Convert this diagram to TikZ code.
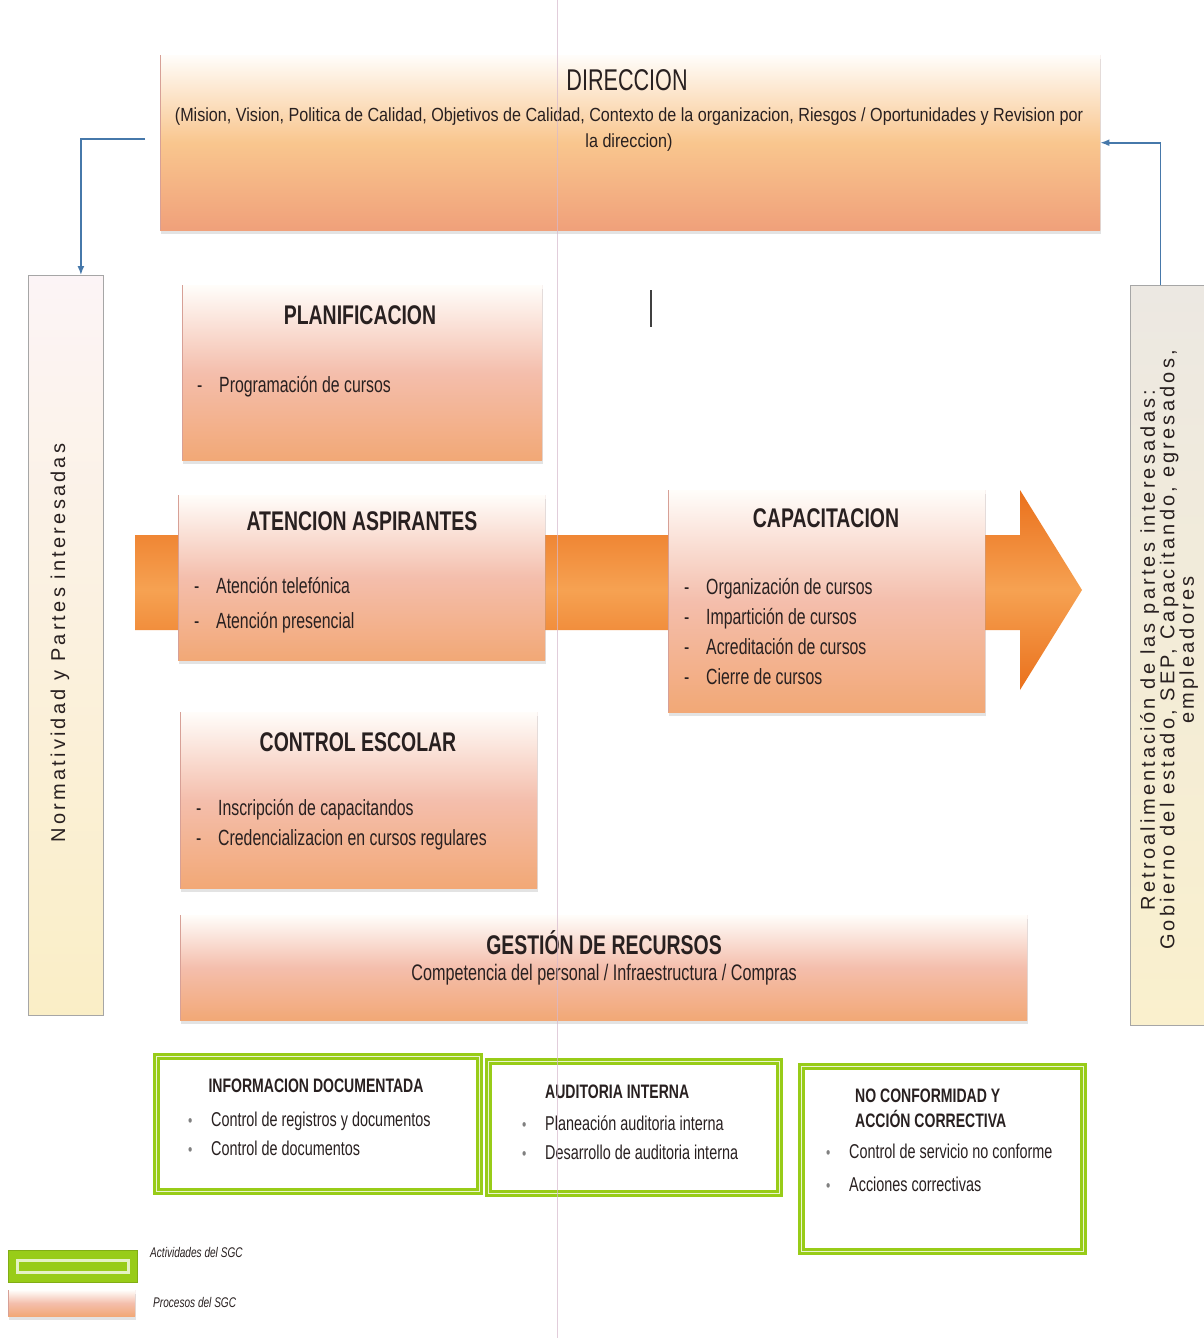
\documentclass[tikz,border=0pt]{standalone}
\usepackage{fontspec}
\setmainfont{Liberation Sans}
\newfontfamily\cf{Liberation Sans}[FakeStretch=0.72]
\newfontfamily\cfw{Liberation Sans}[FakeStretch=0.85]
\newfontfamily\spf{Liberation Sans}[LetterSpace=16]
\usetikzlibrary{arrows.meta,shadows}
\definecolor{procW}{RGB}{255,253,250}
\definecolor{procM}{RGB}{244,190,172}
\definecolor{procB}{RGB}{242,168,118}
\definecolor{procE}{RGB}{215,160,150}
\definecolor{dirM}{RGB}{249,198,142}
\definecolor{dirB}{RGB}{240,160,122}
\definecolor{arrO}{RGB}{234,112,28}
\definecolor{arrL}{RGB}{246,162,82}
\definecolor{limeG}{RGB}{152,204,24}
\definecolor{flowB}{RGB}{70,120,170}
\definecolor{txt}{RGB}{40,32,32}
\definecolor{barTop}{RGB}{252,244,246}
\definecolor{barBot}{RGB}{250,238,198}
\definecolor{rbarTop}{RGB}{236,232,226}
\definecolor{rbarBot}{RGB}{250,240,205}
\definecolor{artif}{RGB}{215,185,205}
\newcommand\dl[1]{\makebox[22pt][l]{-}#1}
\newcommand\bd[1]{\makebox[23pt][l]{{\fontsize{17}{17}\selectfont\color{black!50}\textbullet}}#1}
\begin{document}
\begin{tikzpicture}[x=1pt,y=-1pt,
  sides/.style={path picture={\draw[procE,line width=1pt]
      (path picture bounding box.north west) -- (path picture bounding box.south west)
      (path picture bounding box.north east) -- (path picture bounding box.south east);}},
  proc/.style={anchor=north west, inner sep=0pt, shading=axis,
      top color=procW, bottom color=procB, middle color=procM, sides,
      drop shadow={opacity=0.22,shadow xshift=1pt,shadow yshift=-4pt}},
  dirbox/.style={proc, top color=procW, bottom color=dirB, middle color=dirM},
  act/.style={anchor=north west, inner sep=0pt, fill=white, draw=limeG,
      line width=3pt, double=white!80!limeG, double distance=1.5pt},
  legact/.style={anchor=north west, inner sep=0pt, fill=limeG, draw=limeG!85!black, line width=1pt,
      path picture={\draw[white!75!limeG, line width=2.5pt]
        ([xshift=9pt,yshift=-10pt]path picture bounding box.north west) rectangle
        ([xshift=-9pt,yshift=10pt]path picture bounding box.south east);}},
  bar/.style={anchor=north west, inner sep=0pt, shading=axis, draw=black!35, line width=0.8pt},
  ttl/.style={text=txt, font=\cf\bfseries\fontsize{27}{30}\selectfont},
  body/.style={text=txt, anchor=west, align=left, inner sep=0pt},
  small/.style={text=txt, anchor=west, align=left, inner sep=0pt,
      font=\cf\fontsize{20}{29}\selectfont},
  flow/.style={draw=flowB, line width=1.6pt, -{Latex[length=9pt,width=7pt]}},
  arrowfill/.style={shading=axis, top color=arrO, bottom color=arrO, middle color=arrL}
]
\useasboundingbox (0,0) rectangle (1204,1338);
\fill[white] (0,0) rectangle (1204,1338);

% side bars
\node[bar, top color=barTop, bottom color=barBot, minimum width=75, minimum height=740] (lbar) at (28,275) {};
\node[bar, top color=rbarTop, bottom color=rbarBot, minimum width=74, minimum height=740] (rbar) at (1130,285) {};
\node[rotate=90, text=txt, font=\spf\fontsize{20}{22}\selectfont] (ltext) at (60,643) {Normatividad y Partes interesadas};
\node[rotate=90, text=txt, align=center, font=\spf\fontsize{20}{19.5}\selectfont] (rtext) at (1169,650)
  {Retroalimentación de las partes interesadas:\\Gobierno del estado, SEP, Capacitando, egresados,\\empleadores};

% direction box
\node[dirbox, minimum width=940, minimum height=175] (dir) at (160,55) {};
\node[text=txt, font=\cf\fontsize{30}{32}\selectfont] (dirT) at (627,80) {DIRECCION};
\node[text=txt, align=center, font=\cfw\fontsize{19}{26}\selectfont] (dirS) at (629,130)
  {(Mision, Vision, Politica de Calidad, Objetivos de Calidad, Contexto de la organizacion, Riesgos / Oportunidades y Revision por\\la direccion)};

% feedback connectors
\draw[flow] ([xshift=-15pt,yshift=4pt]dir.west) -| ([xshift=15pt]lbar.north);
\draw[flow] ([xshift=-7pt]rbar.north) |- (dir.east);

% big process arrow
\path[arrowfill] (135,535) -- (1020,535) -- (1020,490) -- (1082,590) -- (1020,690) -- (1020,630) -- (135,630) -- cycle;

% process boxes
\node[proc, minimum width=360, minimum height=175] (plan) at (182,285) {};
\node[ttl] (planT) at (360,315) {PLANIFICACION};
\node[body, font=\cf\fontsize{22}{30}\selectfont] (planL) at (197,387) {\dl{Programación de cursos}};

\node[proc, minimum width=367, minimum height=165] (aten) at (178,495) {};
\node[ttl] (atenT) at (362,521) {ATENCION ASPIRANTES};
\node[body, font=\cf\fontsize{22}{35}\selectfont] (atenL) at (194,605) {\dl{Atención telefónica}\\\dl{Atención presencial}};

\node[proc, minimum width=317, minimum height=222] (capa) at (668,490) {};
\node[ttl] (capaT) at (826,518) {CAPACITACION};
\node[body, font=\cf\fontsize{22}{30}\selectfont] (capaL) at (684,631)
  {\dl{Organización de cursos}\\\dl{Impartición de cursos}\\\dl{Acreditación de cursos}\\\dl{Cierre de cursos}};

\node[proc, minimum width=357, minimum height=176] (ctrl) at (180,712) {};
\node[ttl] (ctrlT) at (358,742) {CONTROL ESCOLAR};
\node[body, font=\cf\fontsize{22}{30}\selectfont] (ctrlL) at (196,825)
  {\dl{Inscripción de capacitandos}\\\dl{Credencializacion en cursos regulares}};

\node[proc, minimum width=847, minimum height=105] (gest) at (180,915) {};
\node[ttl] (gestT) at (604,943) {GESTIÓN DE RECURSOS};
\node[text=txt, font=\cf\fontsize{22.5}{24}\selectfont] (gestS) at (604,975) {Competencia del personal / Infraestructura / Compras};

% activity boxes
\node[act, minimum width=323, minimum height=135] (info) at (155,1055) {};
\node[text=txt, font=\cf\bfseries\fontsize{19.5}{22}\selectfont] (infoT) at (316,1086) {INFORMACION DOCUMENTADA};
\node[small] (infoL) at (188,1134) {\bd{Control de registros y documentos}\\\bd{Control de documentos}};

\node[act, minimum width=291, minimum height=132] (audi) at (487,1060) {};
\node[text=txt, anchor=west, inner sep=0pt, font=\cf\bfseries\fontsize{19.5}{22}\selectfont] (audiT) at (545,1092) {AUDITORIA INTERNA};
\node[small] (audiL) at (522,1138) {\bd{Planeación auditoria interna}\\\bd{Desarrollo de auditoria interna}};

\node[act, minimum width=282, minimum height=185] (noco) at (800,1065) {};
\node[text=txt, anchor=west, align=left, inner sep=0pt, font=\cf\bfseries\fontsize{19.5}{25}\selectfont] (nocoT) at (855,1108) {NO CONFORMIDAD Y\\ACCIÓN CORRECTIVA};
\node[small, font=\cf\fontsize{20}{33}\selectfont] (nocoL) at (826,1168) {\bd{Control de servicio no conforme}\\\bd{Acciones correctivas}};

% legend
\node[legact, minimum width=129, minimum height=32] (legA) at (8,1250) {};
\node[proc, drop shadow={opacity=0}, minimum width=127, minimum height=26] (legP) at (8,1290) {};
\node[text=txt, anchor=west, inner sep=0pt, font=\cf\itshape\fontsize{14}{16}\selectfont] (legAT) at (150,1252) {Actividades del SGC};
\node[text=txt, anchor=west, inner sep=0pt, font=\cf\itshape\fontsize{14}{16}\selectfont] (legPT) at (153,1302) {Procesos del SGC};

% scan artefacts
\draw[artif, line width=0.8pt, opacity=0.7] (557,0) -- (557,1338);
\draw[black!75, line width=1.6pt] (651,290) -- (651,327);
\end{tikzpicture}
\end{document}
